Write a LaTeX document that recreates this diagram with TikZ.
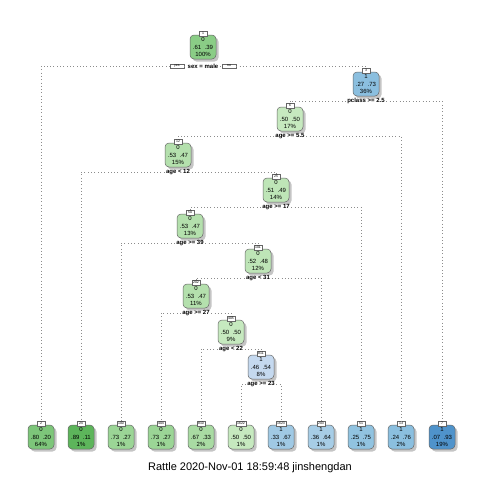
\documentclass[tikz,border=0pt]{standalone}
\usepackage{fontspec}
\setmainfont{Liberation Sans}
\usetikzlibrary{shadows,positioning}
\definecolor{vertA}{HTML}{5DB55B}
\definecolor{vertB}{HTML}{7DC67A}
\definecolor{vertC}{HTML}{8ACD86}
\definecolor{vertD}{HTML}{9BD596}
\definecolor{vertE}{HTML}{A9DBA3}
\definecolor{vertF}{HTML}{B4E0AD}
\definecolor{vertG}{HTML}{BEE5B7}
\definecolor{vertH}{HTML}{C6E9BF}
\definecolor{bleuA}{HTML}{4F93CB}
\definecolor{bleuB}{HTML}{8BBFDF}
\definecolor{bleuC}{HTML}{91C3E0}
\definecolor{bleuD}{HTML}{A0C9E4}
\definecolor{bleuE}{HTML}{A7CDE6}
\definecolor{bleuF}{HTML}{C5D9EF}
\begin{document}
\begin{tikzpicture}[x=1pt,y=-1pt]
\tikzset{boite/.style={draw=black!60, rounded corners=4pt, line width=0.5pt, minimum width=26pt, minimum height=24pt, inner sep=0.5pt, align=center, font=\fontsize{6}{7.4}\selectfont, drop shadow={shadow xshift=2.5pt, shadow yshift=-2.5pt, fill=black!45, opacity=0.5}},
numero/.style={draw=black!60, fill=white, font=\fontsize{3.5}{4}\selectfont, inner xsep=1pt, inner ysep=0.5pt, minimum width=8pt, minimum height=5pt, anchor=south},
regle/.style={font=\bfseries\fontsize{6}{7}\selectfont, inner sep=1.5pt},
ouinon/.style={draw=black!60, font=\fontsize{3.5}{4}\selectfont, inner sep=0.8pt, minimum width=14pt},
branche/.style={draw=black!45, line width=0.6pt, dash pattern=on 0.7pt off 2.6pt}}
\fill[white] (0,0) rectangle (480,480);
\useasboundingbox (0,0) rectangle (480,480);
% noeuds internes
\node[boite, fill=vertC] (N1) at (203,47) {0\\.61\ \ .39\\100\%};
\node[boite, fill=bleuB] (N3) at (366,84) {1\\.27\ \ .73\\36\%};
\node[boite, fill=vertH] (N6) at (290,119) {0\\.50\ \ .50\\17\%};
\node[boite, fill=vertF] (N12) at (178,155) {0\\.53\ \ .47\\15\%};
\node[boite, fill=vertG] (N25) at (276,190) {0\\.51\ \ .49\\14\%};
\node[boite, fill=vertF] (N50) at (190,226) {0\\.53\ \ .47\\13\%};
\node[boite, fill=vertG] (N101) at (258,261) {0\\.52\ \ .48\\12\%};
\node[boite, fill=vertF] (N202) at (196,296) {0\\.53\ \ .47\\11\%};
\node[boite, fill=vertH] (N405) at (231,332) {0\\.50\ \ .50\\9\%};
\node[boite, fill=bleuF] (N811) at (261,367) {1\\.46\ \ .54\\8\%};
% feuilles
\node[boite, fill=vertB] (N2) at (41,437) {0\\.80\ \ .20\\64\%};
\node[boite, fill=vertA] (N24) at (81,437) {0\\.89\ \ .11\\1\%};
\node[boite, fill=vertD] (N100) at (121,437) {0\\.73\ \ .27\\1\%};
\node[boite, fill=vertD] (N404) at (161,437) {0\\.73\ \ .27\\1\%};
\node[boite, fill=vertE] (N810) at (201,437) {0\\.67\ \ .33\\2\%};
\node[boite, fill=vertH] (N1622) at (241,437) {0\\.50\ \ .50\\1\%};
\node[boite, fill=bleuD] (N1623) at (281,437) {1\\.33\ \ .67\\1\%};
\node[boite, fill=bleuE] (N203) at (321,437) {1\\.36\ \ .64\\1\%};
\node[boite, fill=bleuC] (N51) at (361,437) {1\\.25\ \ .75\\1\%};
\node[boite, fill=bleuB] (N13) at (401,437) {1\\.24\ \ .76\\2\%};
\node[boite, fill=bleuA] (N7) at (442,437) {1\\.07\ \ .93\\19\%};
% numeros
\node[numero] (K1) at ([yshift=-1.5pt]N1.north) {1};
\node[numero] (K2) at ([yshift=-1.5pt]N2.north) {2};
\node[numero] (K3) at ([yshift=-1.5pt]N3.north) {3};
\node[numero] (K6) at ([yshift=-1.5pt]N6.north) {6};
\node[numero] (K7) at ([yshift=-1.5pt]N7.north) {7};
\node[numero] (K12) at ([yshift=-1.5pt]N12.north) {12};
\node[numero] (K13) at ([yshift=-1.5pt]N13.north) {13};
\node[numero] (K24) at ([yshift=-1.5pt]N24.north) {24};
\node[numero] (K25) at ([yshift=-1.5pt]N25.north) {25};
\node[numero] (K50) at ([yshift=-1.5pt]N50.north) {50};
\node[numero] (K51) at ([yshift=-1.5pt]N51.north) {51};
\node[numero] (K100) at ([yshift=-1.5pt]N100.north) {100};
\node[numero] (K101) at ([yshift=-1.5pt]N101.north) {101};
\node[numero] (K202) at ([yshift=-1.5pt]N202.north) {202};
\node[numero] (K203) at ([yshift=-1.5pt]N203.north) {203};
\node[numero] (K404) at ([yshift=-1.5pt]N404.north) {404};
\node[numero] (K405) at ([yshift=-1.5pt]N405.north) {405};
\node[numero] (K810) at ([yshift=-1.5pt]N810.north) {810};
\node[numero] (K811) at ([yshift=-1.5pt]N811.north) {811};
\node[numero] (K1622) at ([yshift=-1.5pt]N1622.north) {1622};
\node[numero] (K1623) at ([yshift=-1.5pt]N1623.north) {1623};
% regles
\node[regle] (S1) at (203,66) {sex = male};
\node[ouinon, left=2pt of S1] (Oui) {yes};
\node[ouinon, right=2pt of S1] (Non) {no};
\node[regle] (S3) at (366,101) {pclass >= 2.5};
\node[regle] (S6) at (290,136) {age >= 5.5};
\node[regle] (S12) at (178,172) {age < 12};
\node[regle] (S25) at (276,207) {age >= 17};
\node[regle] (S50) at (190,243) {age >= 39};
\node[regle] (S101) at (258,278) {age < 31};
\node[regle] (S202) at (196,313) {age >= 27};
\node[regle] (S405) at (231,349) {age < 22};
\node[regle] (S811) at (261,384) {age >= 23};
% branches
\draw[branche] (Oui.west) -| (K2.north);
\draw[branche] (Oui.east) -- (S1.west);
\draw[branche] (S1.east) -- (Non.west);
\draw[branche] (Non.east) -| (K3.north);
\draw[branche] (S3.west) -| (K6.north);
\draw[branche] (S3.east) -| (K7.north);
\draw[branche] (S6.west) -| (K12.north);
\draw[branche] (S6.east) -| (K13.north);
\draw[branche] (S12.west) -| (K24.north);
\draw[branche] (S12.east) -| (K25.north);
\draw[branche] (S25.west) -| (K50.north);
\draw[branche] (S25.east) -| (K51.north);
\draw[branche] (S50.west) -| (K100.north);
\draw[branche] (S50.east) -| (K101.north);
\draw[branche] (S101.west) -| (K202.north);
\draw[branche] (S101.east) -| (K203.north);
\draw[branche] (S202.west) -| (K404.north);
\draw[branche] (S202.east) -| (K405.north);
\draw[branche] (S405.west) -| (K810.north);
\draw[branche] (S405.east) -| (K811.north);
\draw[branche] (S811.west) -| (K1622.north);
\draw[branche] (S811.east) -| (K1623.north);
% titre
\node[font=\fontsize{11}{13}\selectfont] (Titre) at (250,468) {Rattle 2020-Nov-01 18:59:48 jinshengdan};
\end{tikzpicture}
\end{document}
